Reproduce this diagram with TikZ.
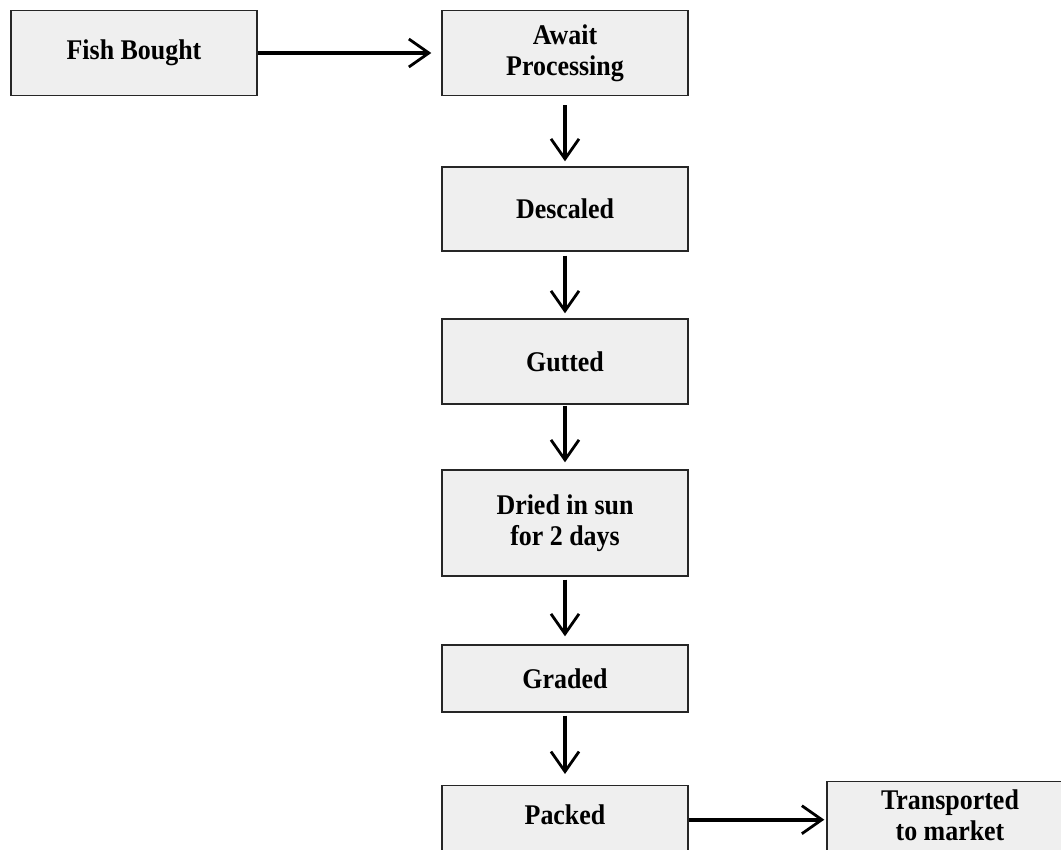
\documentclass[tikz,border=0pt]{standalone}
\usepackage{fontspec}
\setmainfont{Liberation Serif}[FakeStretch=0.91]
\usetikzlibrary{arrows.meta}
\tikzset{
  box/.style={draw=black!85, line width=1.4pt, fill=boxgray, minimum width=246pt,
    inner sep=0pt, align=center, font=\bfseries\fontsize{28.5}{31}\selectfont},
  arr/.style={line width=4pt, -{Straight Barb[length=20pt,width=28pt,line width=2.8pt]}}
}
\definecolor{boxgray}{HTML}{EFEFEF}
\begin{document}
\begin{tikzpicture}[x=1pt,y=-1pt]
\useasboundingbox (0,0) rectangle (1061,850);
\clip (0,0) rectangle (1061,850);
\node[box, minimum height=85pt] (fish) at (134,53) {Fish Bought};
\node[box, minimum height=85pt] (await) at (565,53) {Await\\Processing};
\node[box, minimum height=84pt] (desc) at (565,209) {Descaled};
\node[box, minimum height=85pt] (gut) at (565,361.5) {Gutted};
\node[box, minimum height=106pt] (dried) at (565,523) {Dried in sun\\for 2 days};
\node[box, minimum height=67pt] (graded) at (565,678.5) {Graded};
\node[box, anchor=north, text height=39pt, text depth=60pt] (packed) at (565,785) {Packed};
\node[box, anchor=north, text height=28pt, text depth=70pt] (trans) at (950,781)
  {\begin{tabular}[t]{@{}c@{}}Transported\\to market\end{tabular}};
\draw[arr, shorten >=10pt] (fish) -- (await);
\draw[arr, shorten <=9pt, shorten >=5pt] (await) -- (desc);
\draw[arr, shorten <=4pt, shorten >=5pt] (desc) -- (gut);
\draw[arr, shorten <=1pt, shorten >=7pt] (gut) -- (dried);
\draw[arr, shorten <=3pt, shorten >=8pt] (dried) -- (graded);
\draw[arr, shorten <=3pt, shorten >=11pt] (graded) -- (packed.north);
\draw[arr, shorten >=2pt] ([yshift=5pt]packed.base east) -- ([yshift=5pt]packed.base east -| trans.west);
\end{tikzpicture}
\end{document}
